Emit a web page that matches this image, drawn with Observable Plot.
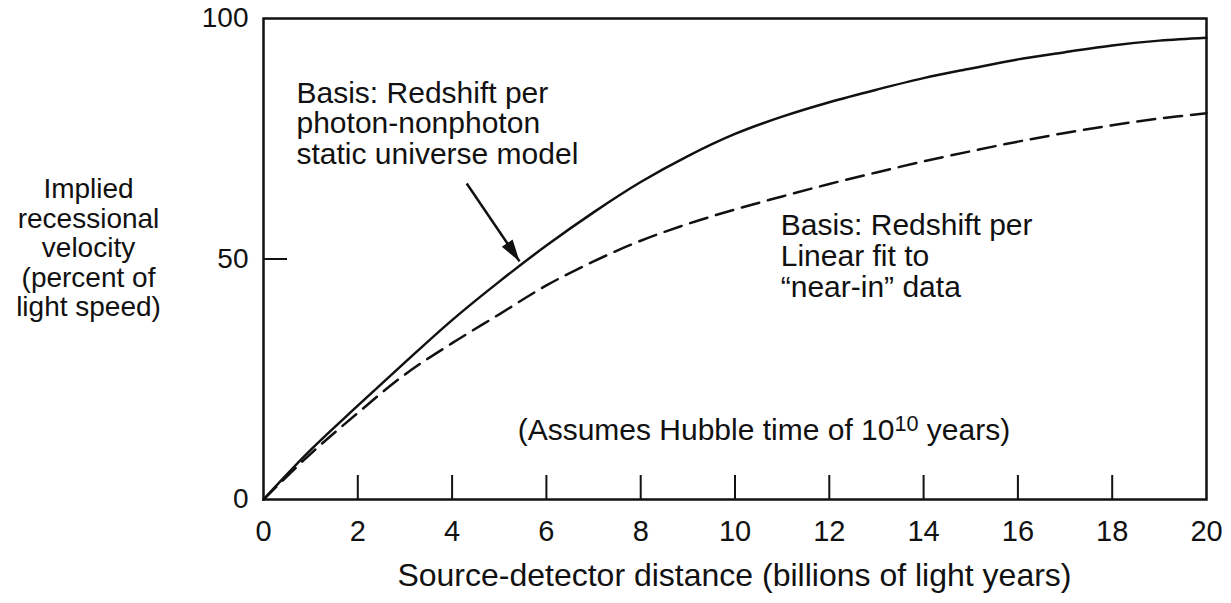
<!DOCTYPE html>
<html><head><meta charset="utf-8">
<script src="https://cdn.jsdelivr.net/npm/d3@7"></script>
<script src="https://cdn.jsdelivr.net/npm/@observablehq/plot@0.6"></script>
<style>
body{margin:0;background:#fff}
svg{font-family:"Liberation Sans",Arial,Helvetica,sans-serif}
</style>
</head><body><div id="chart"></div>
<script>
// Source-detector distance (billions of light years)
const distance = [0,1,2,3,4,5,6,7,8,9,10,11,12,13,14,15,16,17,18,19,20];
// Implied recessional velocity (% of light speed)
const photonModel = [0,10.3,19.5,28.5,37.3,45.3,52.8,59.7,66.0,71.4,76,79.6,82.6,85.2,87.6,89.6,91.5,93,94.4,95.4,96];
const linearFit   = [0,9.5,18,26,32.5,38.5,44.5,49.5,53.8,57.3,60.3,63,65.6,68,70.3,72.4,74.4,76.2,77.8,79.2,80.3];

const xTickLabels = [0,2,4,6,8,10,12,14,16,18,20];
const xInnerTicks = [2,4,6,8,10,12,14,16,18];
const yTickLabels = [0,50,100];
const yInnerTicks = [50];

const yTitle = "Implied\nrecessional\nvelocity\n(percent of\nlight speed)";
const xTitle = "Source-detector distance (billions of light years)";

const noteTexts = [
  "Basis: Redshift per\nphoton-nonphoton\nstatic universe model",
  "Basis: Redshift per\nLinear fit to\n\u201cnear-in\u201d data",
  "(Assumes Hubble time of 10^10 years)"
];
const noteX = [0.7, 10.97, 5.39];
const noteY = [87.1, 59.5, 17.0];

const pointerFrom = [4.31, 65.7];
const pointerTo = [5.43, 49.5];

const solid = distance.map((d, i) => ({x: d, y: photonModel[i]}));
const dashed = distance.map((d, i) => ({x: d, y: linearFit[i]}));
const notes = noteTexts.map((t, i) => ({text: t, x: noteX[i], y: noteY[i]}));
const pointer = [{x1: pointerFrom[0], y1: pointerFrom[1], x2: pointerTo[0], y2: pointerTo[1]}];

const arrowHead = {
  draw(ctx) {
    ctx.moveTo(0, 0);
    ctx.lineTo(-6.5, 22);
    ctx.lineTo(6.5, 22);
    ctx.closePath();
  }
};

const ink = "#111";

const chart = Plot.plot({
  width: 1231,
  height: 603,
  marginLeft: 263,
  marginRight: 25,
  marginTop: 18,
  marginBottom: 104,
  x: {domain: [0, 20]},
  y: {domain: [0, 100]},
  style: {background: "#fff", color: ink, fontFamily: '"Liberation Sans", Arial, sans-serif'},
  marks: [
    Plot.axisX({ticks: xTickLabels, tickSize: 0, tickPadding: 21, fontSize: 29, label: null}),
    Plot.axisX({ticks: xInnerTicks, tickSize: 24, dy: -24, tickFormat: () => "", label: null, strokeWidth: 2}),
    Plot.axisY({ticks: yTickLabels, tickSize: 0, tickPadding: 15, fontSize: 28, label: null}),
    Plot.axisY({ticks: yInnerTicks, tickSize: 24, dx: 24, tickFormat: () => "", label: null, strokeWidth: 2}),
    Plot.frame({stroke: ink, strokeWidth: 2.5}),
    Plot.line(solid, {x: "x", y: "y", stroke: ink, strokeWidth: 2.5, curve: "catmull-rom"}),
    Plot.line(dashed, {x: "x", y: "y", stroke: ink, strokeWidth: 2.5, strokeDasharray: "18,9", curve: "catmull-rom"}),
    Plot.link(pointer, {x1: "x1", y1: "y1", x2: "x2", y2: "y2", stroke: ink, strokeWidth: 2.5}),
    Plot.dot(pointer, {x: "x2", y: "y2", symbol: arrowHead, r: 5, fill: ink, stroke: "none", rotate: 146}),
    Plot.text(notes, {x: "x", y: "y", text: "text", textAnchor: "start", lineAnchor: "top", fontSize: 30, lineHeight: 1.03, fill: ink}),
    Plot.text([yTitle], {x: 0, y: 50, text: d => d, dx: -175, dy: -11, textAnchor: "middle", lineAnchor: "middle", fontSize: 28, lineHeight: 1.054, fill: ink}),
    Plot.text([xTitle], {x: 2.84, y: 0, text: d => d, dy: 64, textAnchor: "start", lineAnchor: "top", fontSize: 32, fill: ink})
  ]
});

document.getElementById("chart").appendChild(chart);

// Render the exponent as a superscript
chart.querySelectorAll("text").forEach(t => {
  if (t.textContent.includes("10^10")) {
    const [before, after] = t.textContent.split("10^10");
    t.textContent = "";
    const ns = "http://www.w3.org/2000/svg";
    const a = document.createElementNS(ns, "tspan"); a.textContent = before + "10";
    const b = document.createElementNS(ns, "tspan"); b.textContent = "10"; b.setAttribute("dy", "-0.42em"); b.setAttribute("font-size", "0.72em");
    const c = document.createElementNS(ns, "tspan"); c.textContent = after; c.setAttribute("dy", "0.3em");
    t.append(a, b, c);
  }
});
</script>
</body></html>
